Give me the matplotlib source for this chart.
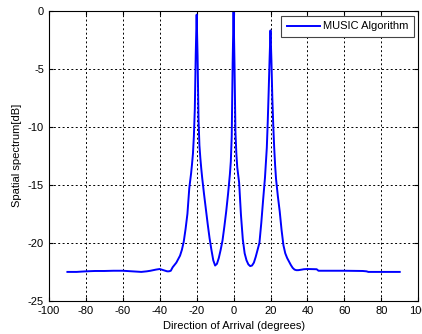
import matplotlib
matplotlib.use("Agg")
import matplotlib.pyplot as plt

plt.rcParams['font.family'] = ['Liberation Sans', 'DejaVu Sans']
plt.rcParams['axes.unicode_minus'] = False

# Direction of arrival (degrees) and spatial spectrum (dB)
doa = [-90, -85, -80, -75, -70, -65, -60, -55, -50, -47, -45, -42, -40, -38, -36, -35,
       -34, -33, -32, -31, -30, -29, -28, -27, -26, -25, -24, -23, -22.5, -22, -21.5, -21,
       -20.5, -20, -19.5, -19, -18.5, -18, -17.5, -17, -16, -15, -14, -13, -12, -11, -10,
       -9, -8, -7, -6, -5, -4, -3, -2, -1.5, -1, -0.5, 0, 0.5, 1, 1.5, 2, 3, 4, 5, 6, 7,
       8, 9, 10, 11, 12, 13, 14, 15, 16, 17, 17.5, 18, 18.5, 19, 19.5, 20, 20.5, 21, 21.5,
       22, 22.5, 23, 24, 25, 26, 27, 28, 29, 30, 31, 32, 33, 34, 35, 37, 38, 40, 45, 46,
       50, 60, 70, 72, 73, 80, 90]
spectrum = [-22.5, -22.5, -22.45, -22.42, -22.42, -22.4, -22.4, -22.45, -22.5, -22.45,
            -22.4, -22.3, -22.25, -22.35, -22.45, -22.45,
            -22.4, -22.1, -21.9, -21.7, -21.4, -21.1, -20.6, -19.9, -18.8, -17.5, -15.3,
            -14.0, -13.2, -12.3, -10.8, -8.5,
            -3.8, -0.34, -3.9, -9.3, -11.6, -12.7, -13.6, -14.4, -15.8, -17.1, -18.4,
            -19.6, -20.6, -21.5, -21.95,
            -21.8, -21.3, -20.6, -19.8, -18.6, -17.3, -15.8, -14.1, -13.0, -10.8, -4.5,
            0.0, -4.6, -10.4, -12.3, -13.5, -14.8, -17.6, -19.7, -20.9, -21.5,
            -21.85, -22.0, -21.95, -21.7, -21.2, -20.6, -20.0, -18.3, -16.3, -14.4, -13.1,
            -11.8, -9.6, -7.0, -4.2, -1.7, -4.3, -7.6, -9.9,
            -11.8, -13.3, -14.5, -16.0, -17.3, -18.9, -20.2, -20.9, -21.3, -21.6, -21.9,
            -22.15, -22.3, -22.35, -22.35, -22.3, -22.27, -22.25, -22.27, -22.4,
            -22.4, -22.4, -22.42, -22.45, -22.5, -22.5, -22.5]

x_ticks = list(range(-100, 101, 20))
y_ticks = list(range(-25, 1, 5))

fig = plt.figure(figsize=(4.22, 3.34), dpi=100)
ax = fig.add_axes([0.116, 0.099, 0.875, 0.869])

ax.plot(doa, spectrum, color='#0000ff', linewidth=1.4, label='MUSIC Algorithm')

ax.set_xlim(-100, 100)
ax.set_ylim(-25, 0)
ax.set_xticks(x_ticks)
ax.set_yticks(y_ticks)
ax.tick_params(direction='in', length=3, labelsize=8, top=True, right=True)
ax.tick_params(axis='x', pad=4)
ax.tick_params(axis='y', pad=3.5)

ax.grid(True, color='black', linestyle=(0, (2, 2.5)), linewidth=0.7)
for s in ax.spines.values():
    s.set_linewidth(0.8)

ax.set_xlabel('Direction of Arrival (degrees)', fontsize=8, labelpad=3)
ax.set_ylabel('Spatial spectrum[dB]', fontsize=8, labelpad=4)

leg = ax.legend(loc='upper right', fontsize=8, fancybox=False, framealpha=1,
                edgecolor='#444444', borderpad=0.5, handlelength=3.0,
                handletextpad=0.3, borderaxespad=0,
                bbox_to_anchor=(0.989, 0.982))
leg.get_frame().set_linewidth(0.8)

fig.savefig('out.png', dpi=100)
